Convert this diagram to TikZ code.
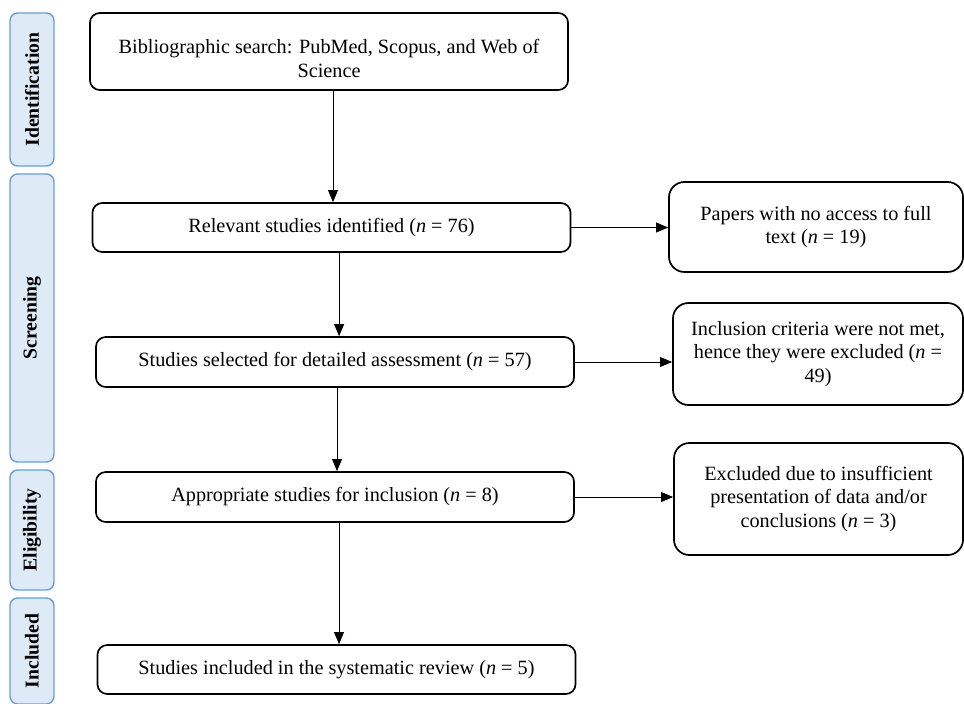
\documentclass[tikz,border=0pt]{standalone}
\usepackage{fontspec}
\setmainfont{Liberation Serif}
\usepackage{xcolor}
\usetikzlibrary{arrows.meta}

\definecolor{bandfill}{RGB}{222,235,247}
\definecolor{bandline}{RGB}{108,158,212}

\begin{document}
\begin{tikzpicture}[x=0.025cm,y=-0.025cm,
  arr/.style={-{Triangle[length=8.5pt,width=7pt]},line width=0.6pt},
  mainbox/.style={draw,line width=1.2pt,rounded corners=7pt,minimum width=11.95cm,
    inner sep=0pt,align=center,font=\fontsize{14.4}{16.5}\selectfont},
  sidebox/.style={draw,line width=1.2pt,rounded corners=11pt,
    inner sep=0pt,align=center,font=\fontsize{14.4}{16.5}\selectfont},
  band/.style={draw=bandline,fill=bandfill,line width=1pt,rounded corners=5.5pt,
    rotate=90,minimum height=1.1cm,inner sep=0pt,font=\bfseries\fontsize{14}{16}\selectfont}]
  \useasboundingbox (0,0) rectangle (964,703);

  % Phase bands on the left
  \node[band,minimum width=3.825cm] (ident)  at (32,89.5) {Identification};
  \node[band,minimum width=7.2cm]   (screen) at (32,318)  {Screening};
  \node[band,minimum width=3cm]     (elig)   at (32,530)  {Eligibility};
  \node[band,minimum width=2.65cm]  (incl)   at (32,651)  {Included};

  % Main column
  \node[mainbox,minimum height=1.925cm] (search) at (329,51.5)
    {\rule{0pt}{20pt}Bibliographic search: PubMed, Scopus, and Web of\\Science};
  \node[mainbox,minimum height=1.225cm] (relevant) at (331.5,227.5)
    {Relevant studies identified (\textit{n} = 76)};
  \node[mainbox,minimum height=1.25cm] (selected) at (335,362)
    {Studies selected for detailed assessment (\textit{n} = 57)};
  \node[mainbox,minimum height=1.25cm] (appropriate) at (335,497)
    {Appropriate studies for inclusion (\textit{n} = 8)};
  \node[mainbox,minimum height=1.225cm] (included) at (336.5,669.5)
    {Studies included in the systematic review (\textit{n} = 5)};

  % Exclusion boxes
  \node[sidebox,minimum width=7.35cm,minimum height=2.25cm] (noaccess) at (816,227)
    {Papers with no access to full\\text (\textit{n} = 19)};
  \node[sidebox,minimum width=7.25cm,minimum height=2.55cm] (notmet) at (818,354)
    {Inclusion criteria were not met,\\hence they were excluded (\textit{n} =\\49)};
  \node[sidebox,minimum width=7.225cm,minimum height=2.8cm] (insuff) at (818.5,499)
    {Excluded due to insufficient\\presentation of data and/or\\conclusions (\textit{n} = 3)};

  % Flow arrows
  \draw[arr] ([xshift=0.1cm]search.south) -- ([xshift=0.1cm]search.south |- relevant.north);
  \draw[arr] ([xshift=0.19cm]relevant.south) -- ([xshift=0.19cm]relevant.south |- selected.north);
  \draw[arr] ([xshift=0.05cm]selected.south) -- ([xshift=0.05cm]selected.south |- appropriate.north);
  \draw[arr] ([xshift=0.1cm]appropriate.south) -- ([xshift=0.1cm]appropriate.south |- included.north);

  \draw[arr] (relevant.east) -- (relevant.east -| noaccess.west);
  \draw[arr] (selected.east) -- (selected.east -| notmet.west);
  \draw[arr] (appropriate.east) -- (appropriate.east -| insuff.west);

\end{tikzpicture}
\end{document}
